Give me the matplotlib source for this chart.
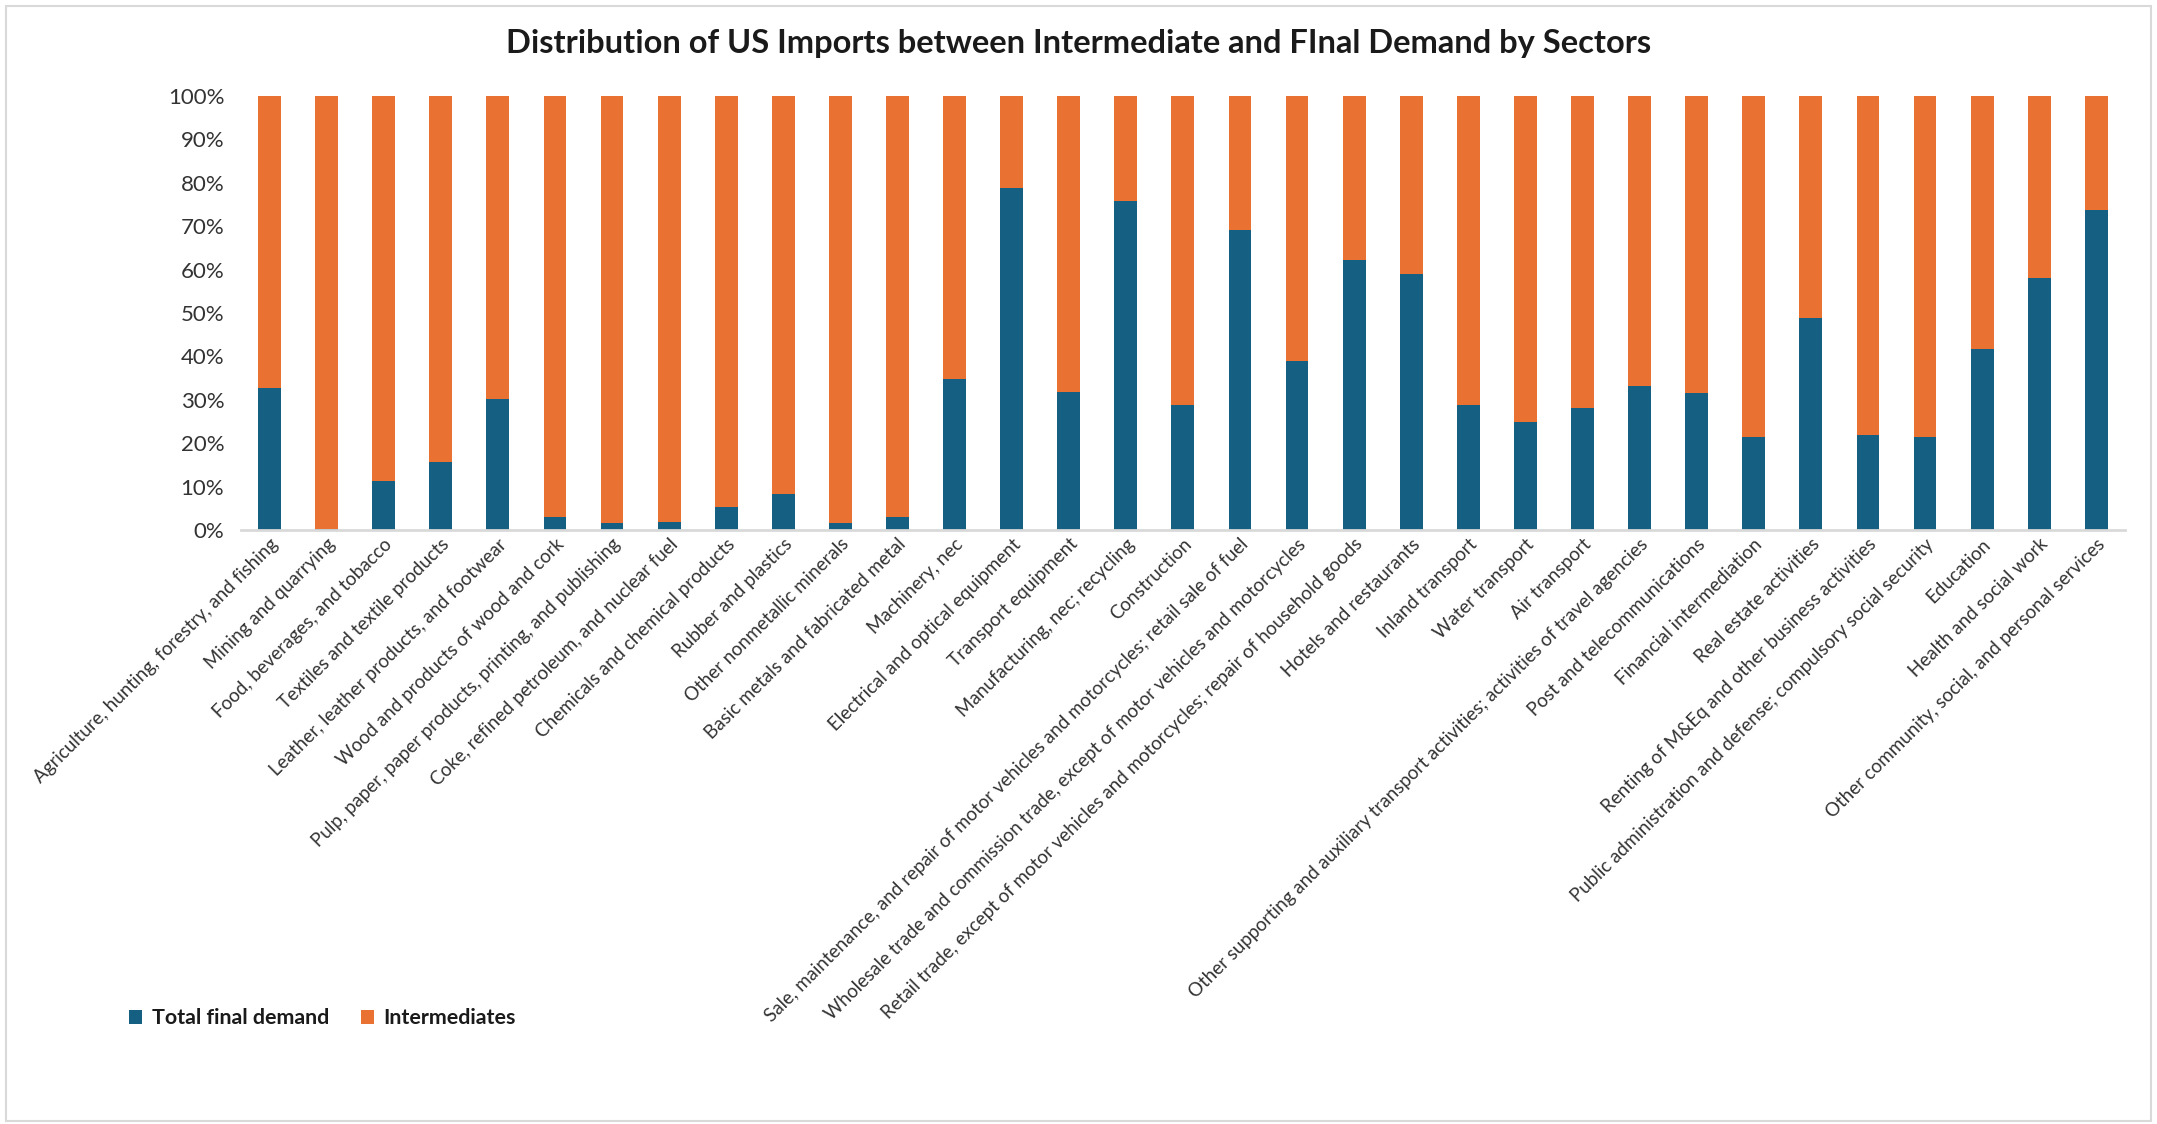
import numpy as np
import matplotlib
matplotlib.use("Agg")
import matplotlib.pyplot as plt
from matplotlib.patches import Rectangle
from matplotlib.ticker import PercentFormatter

plt.rcParams['font.family'] = ['Lato', 'DejaVu Sans']

sectors = [
    "Agriculture, hunting, forestry, and fishing",
    "Mining and quarrying",
    "Food, beverages, and tobacco",
    "Textiles and textile products",
    "Leather, leather products, and footwear",
    "Wood and products of wood and cork",
    "Pulp, paper, paper products, printing, and publishing",
    "Coke, refined petroleum, and nuclear fuel",
    "Chemicals and chemical products",
    "Rubber and plastics",
    "Other nonmetallic minerals",
    "Basic metals and fabricated metal",
    "Machinery, nec",
    "Electrical and optical equipment",
    "Transport equipment",
    "Manufacturing, nec; recycling",
    "Construction",
    "Sale, maintenance, and repair of motor vehicles and motorcycles; retail sale of fuel",
    "Wholesale trade and commission trade, except of motor vehicles and motorcycles",
    "Retail trade, except of motor vehicles and motorcycles; repair of household goods",
    "Hotels and restaurants",
    "Inland transport",
    "Water transport",
    "Air transport",
    "Other supporting and auxiliary transport activities; activities of travel agencies",
    "Post and telecommunications",
    "Financial intermediation",
    "Real estate activities",
    "Renting of M&Eq and other business activities",
    "Public administration and defense; compulsory social security",
    "Education",
    "Health and social work",
    "Other community, social, and personal services",
]

# shares of imports (%)
final_demand = [32.6, 0.3, 11.2, 15.6, 30.1, 3.1, 1.5, 1.8, 5.4, 8.4, 1.7,
                3.1, 34.9, 78.8, 31.8, 75.8, 28.7, 69.1, 39.0, 62.1, 59.0,
                28.7, 24.8, 28.1, 33.2, 31.5, 21.5, 48.8, 21.8, 21.5, 41.6,
                58.0, 73.8]
intermediates = [67.4, 99.7, 88.8, 84.4, 69.9, 96.9, 98.5, 98.2, 94.6, 91.6,
                 98.3, 96.9, 65.1, 21.2, 68.2, 24.2, 71.3, 30.9, 61.0, 37.9,
                 41.0, 71.3, 75.2, 71.9, 66.8, 68.5, 78.5, 51.2, 78.2, 78.5,
                 58.4, 42.0, 26.2]

BLUE = '#156082'
ORANGE = '#E97132'

fd = np.array(final_demand)
im = np.array(intermediates)
total = fd + im
fd_pct = fd / total
im_pct = im / total

fig = plt.figure(figsize=(21.57, 11.24), dpi=100)
ax = fig.add_axes([0.1117, 0.5285, 0.8734, 0.3861])

x = np.arange(len(sectors))
ax.bar(x, fd_pct, width=0.4, color=BLUE, label='Total final demand')
ax.bar(x, im_pct, width=0.4, bottom=fd_pct, color=ORANGE, label='Intermediates')

ax.set_xlim(-0.5, len(sectors) - 0.5)
ax.set_ylim(0, 1)
ax.set_yticks(np.arange(0, 1.01, 0.1))
ax.yaxis.set_major_formatter(PercentFormatter(1.0, decimals=0))
ax.tick_params(axis='y', length=0, labelsize=16, labelcolor='#333333', pad=12)
ax.tick_params(axis='x', length=0, pad=4)
ax.set_xticks(x)
ax.set_xticklabels(sectors, rotation=45, ha='right', rotation_mode='anchor',
                   fontsize=13.5, color='#333333')

for side in ['top', 'right', 'left']:
    ax.spines[side].set_visible(False)
ax.spines['bottom'].set_color('#d9d9d9')
ax.spines['bottom'].set_linewidth(2)

fig.text(0.5, 0.961, 'Distribution of US Imports between Intermediate and FInal Demand by Sectors',
         ha='center', va='center', fontsize=23.5, fontweight='bold', color='#1a1a1a')

leg = fig.legend(loc='center left', bbox_to_anchor=(0.051, 0.094), ncol=2,
                 frameon=False, handlelength=0.6, handleheight=0.6,
                 columnspacing=1.5, handletextpad=0.45,
                 prop={'size': 15.4, 'weight': 'bold'})
for t in leg.get_texts():
    t.set_color('#1a1a1a')

# chart area border
fig.patches.append(Rectangle((0.003, 0.003), 0.994, 0.992, transform=fig.transFigure,
                             fill=False, edgecolor='#d9d9d9', linewidth=1.5))

fig.savefig('out.png', dpi=100, facecolor='white')
